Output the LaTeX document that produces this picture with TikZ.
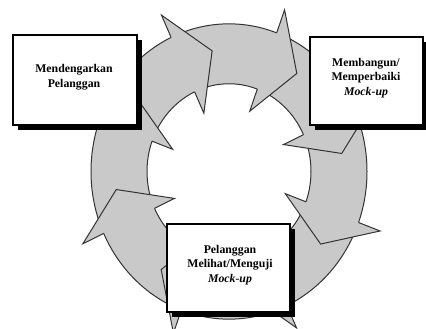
\documentclass[tikz,border=0pt]{standalone}
\usepackage{fontspec}
\setmainfont{Liberation Serif}
\usetikzlibrary{shadows}
\begin{document}
\begin{tikzpicture}[x=1pt,y=1pt,
  ringfill/.style={fill=black!21},
  ringline/.style={draw=black!80, line width=1pt, line join=miter},
  box/.style={draw=black, line width=1.3pt, fill=white, inner sep=0pt,
    drop shadow={opacity=1, shadow xshift=5pt, shadow yshift=-5pt, fill=black}},
  lbl/.style={font=\fontsize{11.8}{14.8}\selectfont\bfseries, align=center, inner sep=0pt}]
\useasboundingbox (0,0) rectangle (426,329);
\clip (0,0) rectangle (426,329);
\begin{scope}[shift={(229,157.5)}, yscale=1.07]
  \fill[ringfill, even odd rule] (0,0) circle[radius=138] (0,0) circle[radius=82];
  \draw[ringline] (0,0) circle[radius=138] (0,0) circle[radius=82];
  \foreach \t in {98.5,53.5,8.5,-36.5,-81.5,-126.5,-171.5,143.5}{
    \fill[ringfill] ({\t+16.3}:161) -- (\t:114) -- ({\t+16.3}:60) -- cycle;
    \draw[ringline] ({\t+16.3}:138) -- ({\t+16.3}:161) -- (\t:114) -- ({\t+16.3}:60) -- ({\t+16.3}:82);
  }
\end{scope}
\node[box, minimum width=124pt, minimum height=90pt] (b1) at (75,249) {};
\node[box, minimum width=113pt, minimum height=88pt] (b2) at (366.5,248) {};
\node[box, minimum width=123pt, minimum height=88pt] (b3) at (228.5,61) {};
\node[lbl] (t1) at (74,252) {Mendengarkan\\Pelanggan};
\node[lbl] (t2) at (366,251) {Membangun/\\Memperbaiki\\\textit{Mock-up}};
\node[lbl] (t3) at (230,64) {Pelanggan\\Melihat/Menguji\\\textit{Mock-up}};
\end{tikzpicture}
\end{document}
